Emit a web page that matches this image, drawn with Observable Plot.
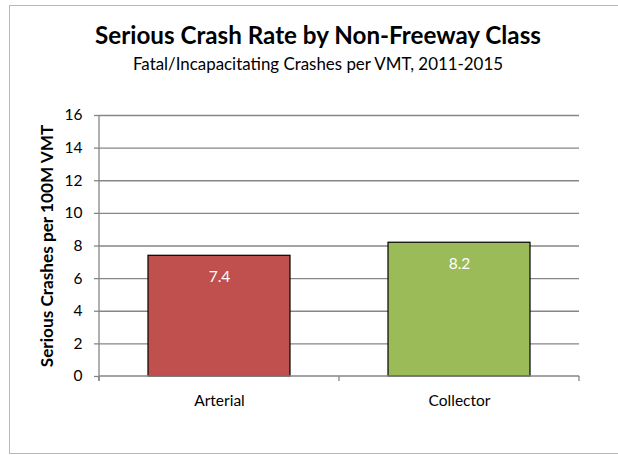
<!DOCTYPE html>
<html>
<head>
<meta charset="utf-8">
<script src="https://cdn.jsdelivr.net/npm/d3@7"></script>
<script src="https://cdn.jsdelivr.net/npm/@observablehq/plot@0.6"></script>
<style>
  html, body { margin: 0; padding: 0; background: #fff; }
  #wrap { position: relative; width: 618px; height: 455px; overflow: hidden; font-family: Lato, "Open Sans", sans-serif; }
  #border { position: absolute; left: 9px; top: 5px; width: 640px; height: 447px; border: 1px solid #b8b8b8; }
  #title { position: absolute; left: 9px; width: 618px; top: 20px; text-align: center; font-weight: bold; font-size: 24.2px; line-height: 1.2; color: #000; white-space: nowrap; }
  #subtitle { position: absolute; left: 9px; width: 618px; top: 54px; text-align: center; font-size: 16.9px; line-height: 1.2; color: #000; white-space: nowrap; }
  #chart { position: absolute; left: 0; top: 100px; }
</style>
</head>
<body>
<div id="wrap">
  <div id="border"></div>
  <div id="title"></div>
  <div id="subtitle"></div>
  <div id="chart"></div>
</div>
<script>
const titleText = "Serious Crash Rate by Non-Freeway Class";
const subtitleText = "Fatal/Incapacitating Crashes per VMT, 2011-2015";
const yLabel = "Serious Crashes per 100M VMT";
const categories = ["Arterial", "Collector"];
const values = [7.4, 8.2];
const colors = ["#C0504D", "#9BBB59"];
const yTicks = [0, 2, 4, 6, 8, 10, 12, 14, 16];
const yDomain = [0, 16];

document.getElementById("title").textContent = titleText;
document.getElementById("subtitle").textContent = subtitleText;

const data = categories.map((c, i) => ({category: c, value: values[i], color: colors[i]}));
const gridColor = "#868686";

const axisLines = (index, scales, vals, dims) => {
  const g = d3.create("svg:g").attr("stroke", gridColor).attr("stroke-width", 1.3);
  const x0 = dims.marginLeft, x1 = dims.width - dims.marginRight;
  const y0 = scales.y(yDomain[0]), yTop = scales.y(yDomain[1]);
  g.append("line").attr("x1", x0).attr("x2", x0).attr("y1", yTop).attr("y2", y0 + 5);
  g.append("line").attr("x1", x0).attr("x2", x1).attr("y1", y0).attr("y2", y0);
  const xs = [x0, (x0 + x1) / 2, x1];
  xs.forEach(x => g.append("line").attr("x1", x).attr("x2", x).attr("y1", y0).attr("y2", y0 + 5));
  return g.node();
};

const chart = Plot.plot({
  width: 618,
  height: 330,
  marginLeft: 99,
  marginRight: 39,
  marginTop: 15,
  marginBottom: 54,
  style: {fontFamily: "Lato, 'Open Sans', sans-serif", background: "transparent", color: "#000"},
  x: {domain: categories, paddingInner: 0.41, paddingOuter: 0.205, label: null},
  y: {domain: yDomain, label: null},
  marks: [
    Plot.ruleY(yTicks.slice(1), {stroke: gridColor, strokeWidth: 1.3, strokeOpacity: 1}),
    Plot.axisY({ticks: yTicks, tickSize: 5, tickPadding: 12, fontSize: 15.5, stroke: gridColor, strokeWidth: 1.3, strokeOpacity: 1, tickFormat: d => String(d), label: null}),
    Plot.axisX({tickSize: 0, tickPadding: 18, fontSize: 15.5, label: null}),
    Plot.barY(data, {x: "category", y: "value", fill: "color", stroke: "#000", strokeWidth: 1.2}),
    Plot.text(data, {x: "category", y: "value", text: d => d.value.toFixed(1), dy: 21, fill: "#fff", fontSize: 15.5}),
    Plot.text([yLabel], {frameAnchor: "left", textAnchor: "middle", rotate: -90, dx: -52, fontSize: 17.2, fontWeight: "bold", fill: "#000"}),
    axisLines
  ]
});
document.getElementById("chart").appendChild(chart);
</script>
</body>
</html>
